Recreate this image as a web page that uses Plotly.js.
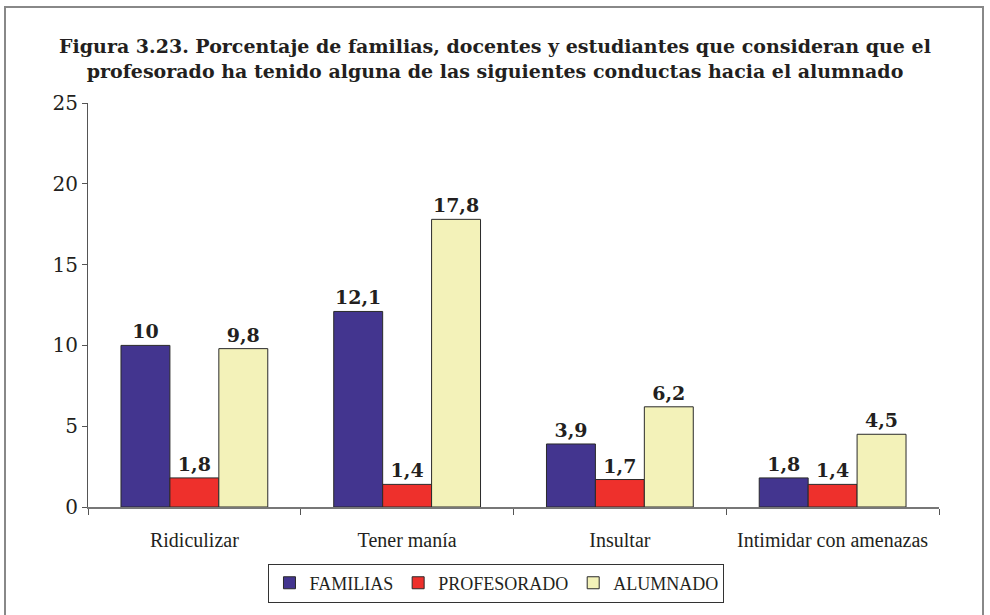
<!DOCTYPE html>
<html>
<head>
<meta charset="utf-8">
<script src="https://cdn.plot.ly/plotly-3.0.1.min.js"></script>
<style>
  body { margin: 0; background: #fff; }
  #wrap { position: relative; width: 990px; height: 615px; }
  #frame { position: absolute; left: 4px; top: 6px; width: 980px; height: 620px;
           border: 2px solid #888; box-sizing: border-box; pointer-events: none; }
  #plotArea { width: 990px; height: 615px; }
</style>
</head>
<body>
<div id="wrap">
  <div id="plotArea"></div>
  <div id="frame"></div>
</div>
<script>
var categories = ["Ridiculizar", "Tener manía", "Insultar", "Intimidar con amenazas"];
var familias = [10, 12.1, 3.9, 1.8];
var profesorado = [1.8, 1.4, 1.7, 1.4];
var alumnado = [9.8, 17.8, 6.2, 4.5];

var labelFont = {family: "DejaVu Serif", size: 19, color: "#231f20"};

function makeTrace(name, values, color) {
    return {
        x: categories,
        y: values,
        name: name,
        type: "bar",
        marker: {color: color, line: {color: "#2a2a2a", width: 1}},
        texttemplate: "<b>%{y}</b>",
        textposition: "outside",
        textfont: labelFont,
        cliponaxis: false
    };
}

var data = [
    makeTrace("FAMILIAS", familias, "#43358f"),
    makeTrace("PROFESORADO", profesorado, "#ee302c"),
    makeTrace("ALUMNADO", alumnado, "#f3f2b9")
];

var layout = {
    width: 990,
    height: 615,
    margin: {l: 88, r: 51, t: 103, b: 105},
    separators: ",.",
    paper_bgcolor: "#fff",
    plot_bgcolor: "#fff",
    showlegend: true,
    bargap: 0.31,
    bargroupgap: 0,
    title: {
        text: "<b>Figura 3.23. Porcentaje de familias, docentes y estudiantes que consideran que el<br>profesorado ha tenido alguna de las siguientes conductas hacia el alumnado</b>",
        font: {family: "DejaVu Serif", size: 19, color: "#231f20"},
        x: 0.5, xanchor: "center",
        y: 0.914, yanchor: "middle", yref: "container"
    },
    xaxis: {
        tickfont: {family: "Liberation Serif", size: 20, color: "#231f20"},
        showline: true, linecolor: "#777", linewidth: 1.5,
        ticks: "outside", tickson: "boundaries", ticklen: 6, tickcolor: "#555",
        ticklabelstandoff: 14,
        showgrid: false
    },
    yaxis: {
        range: [0, 25],
        dtick: 5,
        tickfont: {family: "DejaVu Serif", size: 20, color: "#231f20"},
        showline: true, linecolor: "#555", linewidth: 1,
        ticks: "outside", ticklen: 5, tickcolor: "#555",
        showgrid: false, zeroline: false
    },
    legend: {
        orientation: "h",
        x: 0.48, xanchor: "center",
        y: -0.14, yanchor: "top",
        bordercolor: "#333", borderwidth: 1,
        font: {family: "Liberation Serif", size: 18, color: "#231f20"},
        itemwidth: 30,
        traceorder: "normal"
    }
};

Plotly.newPlot("plotArea", data, layout, {displayModeBar: false});
</script>
</body>
</html>
